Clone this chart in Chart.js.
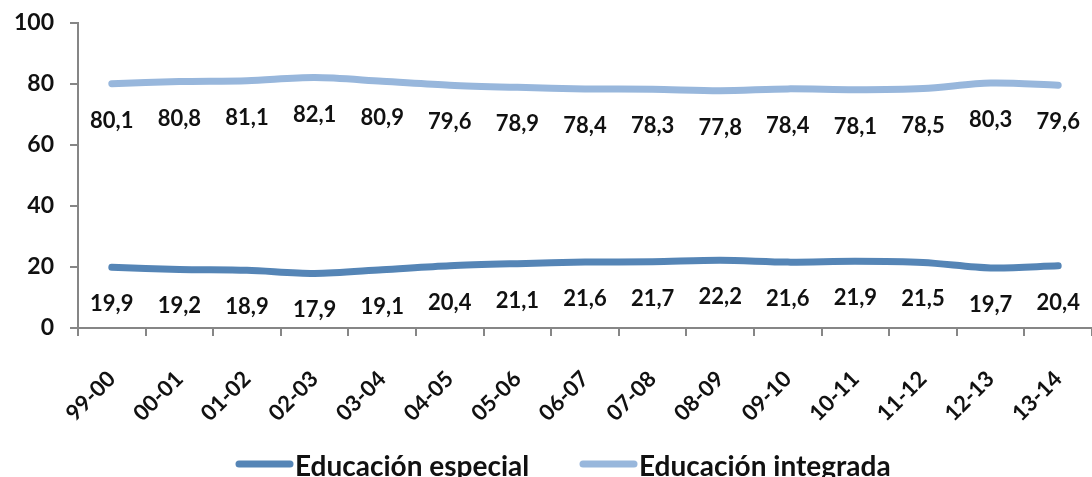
<!DOCTYPE html>
<html><head><meta charset="utf-8">
<script src="https://cdn.jsdelivr.net/npm/chart.js@4/dist/chart.umd.min.js"></script>
<style>html,body{margin:0;padding:0;background:#fff;overflow:hidden}</style>
</head><body>
<canvas id="c" width="1092" height="477"></canvas>
<script>
const categories = ["99-00","00-01","01-02","02-03","03-04","04-05","05-06","06-07","07-08","08-09","09-10","10-11","11-12","12-13","13-14"];
const especial = [19.9,19.2,18.9,17.9,19.1,20.4,21.1,21.6,21.7,22.2,21.6,21.9,21.5,19.7,20.4];
const integrada = [80.1,80.8,81.1,82.1,80.9,79.6,78.9,78.4,78.3,77.8,78.4,78.1,78.5,80.3,79.6];
const seriesNames = ["Educación especial","Educación integrada"];
const yTicks = [0,20,40,60,80,100];

const FONT = "Lato";
const AXIS = "#868686";
const colors = ["#5585B6","#98B7DC"];

const labelPlugin = {
  id: 'vals',
  afterDatasetsDraw(chart) {
    const ctx = chart.ctx;
    ctx.save();
    ctx.font = "bold 22px " + FONT;
    ctx.fillStyle = "#111";
    ctx.textAlign = "center";
    ctx.textBaseline = "alphabetic";
    chart.data.datasets.forEach((ds, i) => {
      const meta = chart.getDatasetMeta(i);
      meta.data.forEach((pt, j) => {
        ctx.fillText(ds.data[j].toFixed(1).replace('.', ','), pt.x, pt.y + 44);
      });
    });
    ctx.restore();
  }
};

const legendPlugin = {
  id: 'leg',
  afterDraw(chart) {
    const ctx = chart.ctx;
    ctx.save();
    ctx.font = "bold 28px " + FONT;
    ctx.textBaseline = "alphabetic";
    ctx.textAlign = "left";
    const y = 464;
    const starts = [236, 580];
    chart.data.datasets.forEach((ds, i) => {
      const x = starts[i];
      ctx.strokeStyle = ds.borderColor;
      ctx.lineWidth = 7;
      ctx.lineCap = "round";
      ctx.beginPath(); ctx.moveTo(x + 3, y); ctx.lineTo(x + 54, y); ctx.stroke();
      ctx.fillStyle = "#111";
      ctx.fillText(ds.label, x + 59, y + 12);
    });
    ctx.restore();
  }
};

new Chart(document.getElementById('c'), {
  type: 'line',
  data: {
    labels: categories,
    datasets: [
      {label: seriesNames[0], data: especial, borderColor: colors[0], backgroundColor: colors[0], borderWidth: 7, pointRadius: 0, tension: 0.3, borderCapStyle: 'round'},
      {label: seriesNames[1], data: integrada, borderColor: colors[1], backgroundColor: colors[1], borderWidth: 7, pointRadius: 0, tension: 0.3, borderCapStyle: 'round'}
    ]
  },
  options: {
    responsive: false,
    animation: false,
    layout: {padding: {top: 23, right: -6, bottom: 30, left: 0}},
    plugins: {legend: {display: false}, tooltip: {enabled: false}},
    scales: {
      x: {
        offset: true,
        grid: {display: true, drawOnChartArea: false, offset: true, tickLength: 8, color: AXIS, lineWidth: 2},
        border: {color: AXIS, width: 2},
        ticks: {color: "#111", font: {family: FONT, size: 22, weight: 'bold'}, minRotation: 45, maxRotation: 45, padding: 30},
        afterFit(s) { s.height = 119; s.paddingLeft = 0; s.paddingRight = 0; }
      },
      y: {
        min: 0, max: 100,
        afterBuildTicks(s) { s.ticks = yTicks.map(v => ({value: v})); },
        grid: {display: true, drawOnChartArea: false, tickLength: 8, color: AXIS, lineWidth: 2},
        border: {color: AXIS, width: 2},
        ticks: {color: "#111", font: {family: FONT, size: 23, weight: 'bold'}, padding: 16},
        afterFit(s) { s.width = 78; s.paddingTop = 0; s.paddingBottom = 0; }
      }
    }
  },
  plugins: [labelPlugin, legendPlugin]
});
</script>
</body></html>
